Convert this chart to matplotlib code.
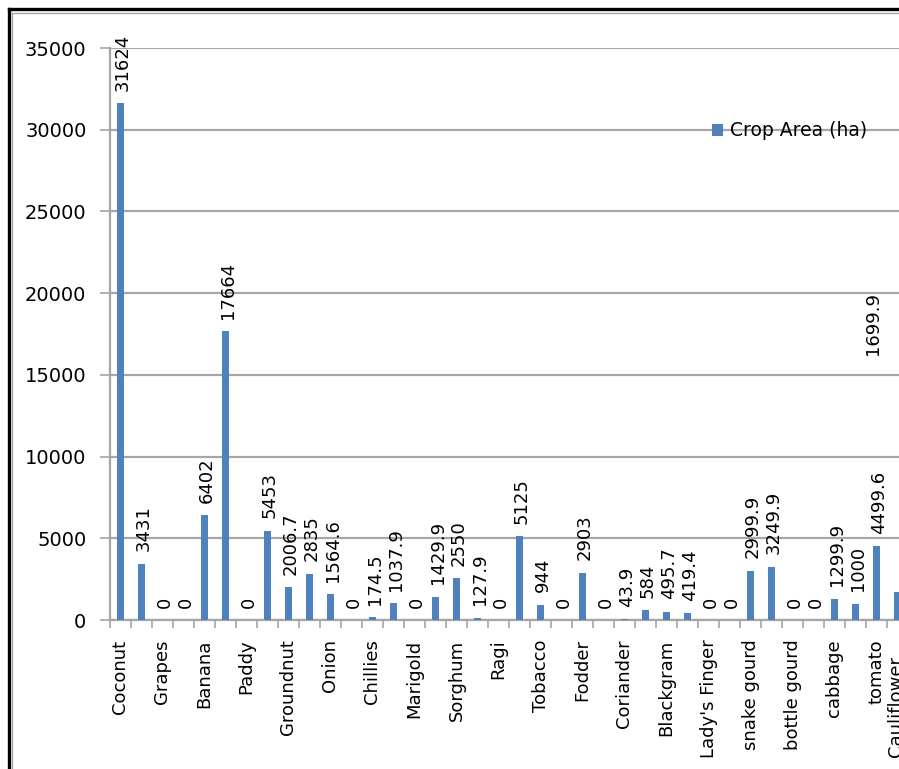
import matplotlib
matplotlib.use("Agg")
import matplotlib.pyplot as plt
from matplotlib.lines import Line2D
import numpy as np

# crops, every other name is hidden on the axis in the original chart
crops = ["Coconut", "", "Grapes", "", "Banana", "", "Paddy", "", "Groundnut", "",
         "Onion", "", "Chillies", "", "Marigold", "", "Sorghum", "", "Ragi", "",
         "Tobacco", "", "Fodder", "", "Coriander", "", "Blackgram", "",
         "Lady's Finger", "", "snake gourd", "", "bottle gourd", "", "cabbage", "",
         "tomato", "Cauliflower   "]
area = [31624, 3431, 0, 0, 6402, 17664, 0, 5453, 2006.7, 2835,
        1564.6, 0, 174.5, 1037.9, 0, 1429.9, 2550, 127.9, 0, 5125,
        944, 0, 2903, 0, 43.9, 584, 495.7, 419.4, 0, 0,
        2999.9, 3249.9, 0, 0, 1299.9, 1000, 4499.6, 1699.9]
value_text = ["31624", "3431", "0", "0", "6402", "17664", "0", "5453", "2006.7", "2835",
              "1564.6", "0", "174.5", "1037.9", "0", "1429.9", "2550", "127.9", "0", "5125",
              "944", "0", "2903", "0", "43.9", "584", "495.7", "419.4", "0", "0",
              "2999.9", "3249.9", "0", "0", "1299.9", "1000", "4499.6", "1699.9"]

bar_color = "#4F81BD"
grid_color = "#A6A6A6"

fig = plt.figure(figsize=(8.99, 7.69), dpi=100)
ax = fig.add_axes([110 / 899, 149 / 769, 861 / 899, 572 / 769])

x = np.arange(len(area))
ax.bar(x, area, width=0.38, color=bar_color, label="Crop Area (ha)", zorder=3)

for i, (v, t) in enumerate(zip(area, value_text)):
    if i == len(area) - 1:
        # the last label sits far above its bar in the original
        ax.text(i - 1.15, 16200, t, rotation=90, ha="center", va="bottom",
                fontsize=13, clip_on=False)
        continue
    ax.annotate(t, (i, v), xytext=(1.5, 9), textcoords="offset points",
                rotation=90, ha="center", va="bottom", fontsize=13,
                annotation_clip=False)

ax.set_xlim(-0.5, 40.5)
ax.set_ylim(0, 35000)
ax.set_yticks(np.arange(0, 35001, 5000))
ax.tick_params(axis="y", labelsize=14, length=7, color=grid_color, width=1.2, pad=10)

ax.set_xticks(x)
ax.set_xticklabels(crops, rotation=90, fontsize=13, va="top", ha="center")
ax.tick_params(axis="x", length=0, pad=14)
ax.set_xticks(np.arange(-0.5, len(area), 1), minor=True)
ax.tick_params(axis="x", which="minor", length=6, color=grid_color, width=1.2)

ax.grid(axis="y", color=grid_color, linewidth=1.6, zorder=0)
for s in ["top", "right"]:
    ax.spines[s].set_visible(False)
for s in ["left", "bottom"]:
    ax.spines[s].set_color(grid_color)
    ax.spines[s].set_linewidth(1.6)

fig.legend(loc="upper left", bbox_to_anchor=(704 / 899, 1 - 114 / 769),
           frameon=False, fontsize=13.5, handlelength=0.6, handleheight=0.6,
           handletextpad=0.4, borderaxespad=0)

# outer frame of the pasted chart
fig.add_artist(Line2D([8.5 / 899, 8.5 / 899], [0, 1 - 8.5 / 769], color="black", linewidth=2.4))
fig.add_artist(Line2D([8.5 / 899, 1], [1 - 8.5 / 769, 1 - 8.5 / 769], color="black", linewidth=2.4))
fig.add_artist(Line2D([11.5 / 899, 11.5 / 899], [0, 1 - 12.5 / 769], color=grid_color, linewidth=1))
fig.add_artist(Line2D([11.5 / 899, 1], [1 - 12.5 / 769, 1 - 12.5 / 769], color=grid_color, linewidth=1))

fig.savefig("out.png", dpi=100)
